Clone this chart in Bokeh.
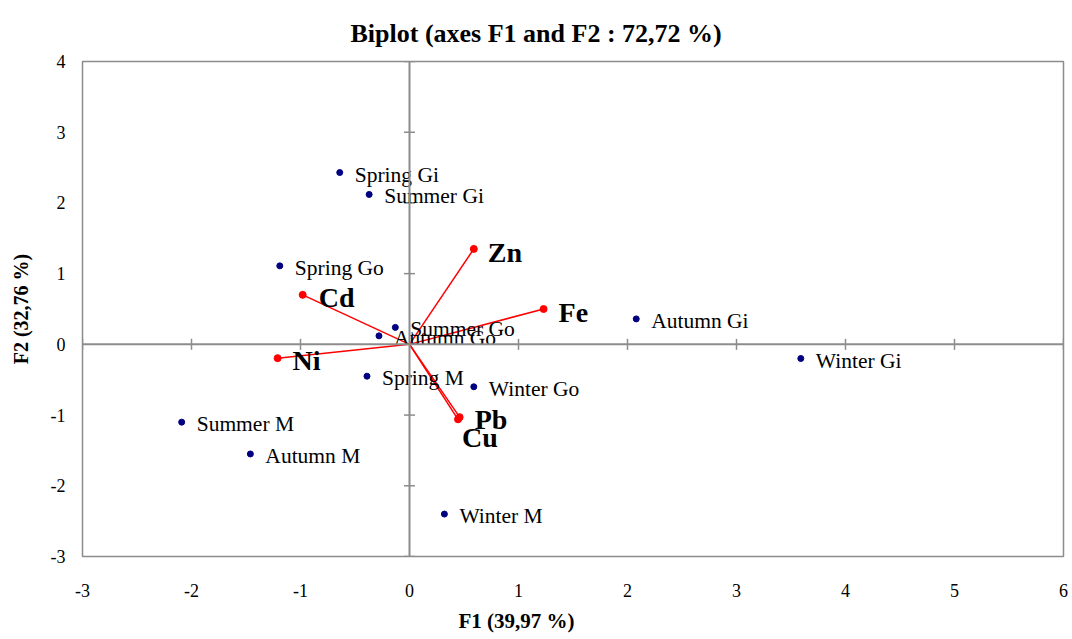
import math
from bokeh.plotting import figure
from bokeh.models import ColumnDataSource, Span, FixedTicker, Range1d, Title
from bokeh.core.properties import value
from bokeh.embed import file_html
from bokeh.resources import INLINE

# --- data ---
obs_names = ["Spring  Gi", "Summer Gi", "Spring Go", "Summer Go", "Autumn Go", "Autumn Gi",
             "Winter Gi", "Spring M", "Winter Go", "Summer M", "Autumn M", "Winter M"]
obs_f1 = [-0.64, -0.37, -1.19, -0.13, -0.28, 2.08, 3.59, -0.39, 0.59, -2.09, -1.46, 0.32]
obs_f2 = [2.43, 2.12, 1.11, 0.24, 0.12, 0.36, -0.20, -0.45, -0.60, -1.10, -1.55, -2.40]

var_names = ["Zn", "Fe", "Cd", "Ni", "Pb", "Cu"]
var_f1 = [0.59, 1.23, -0.98, -1.21, 0.46, 0.445]
var_f2 = [1.35, 0.50, 0.70, -0.195, -1.03, -1.06]

x_ticks = [-3, -2, -1, 0, 1, 2, 3, 4, 5, 6]
y_ticks = [-3, -2, -1, 0, 1, 2, 3, 4]

# label nudges (screen px) for variable labels
var_dx = [14, 15, 16, 15, 15, 4]
var_dy = [4, 3, 3, 2, 2, 18]

SERIF = "Liberation Serif"
GRAY = "#8c8c8c"

p = figure(frame_width=981, frame_height=495, output_backend="svg", toolbar_location=None,
           x_range=Range1d(-3, 6), y_range=Range1d(-3, 4),
           min_border_left=82, min_border_right=9, min_border_top=61, min_border_bottom=83)
p.title.visible = False

p.add_layout(Title(text="Biplot (axes F1 and F2 : 72,72 %)", align="left", offset=268,
                   text_font=SERIF, text_font_size="26px", text_font_style="bold",
                   text_color="black", standoff=28), "above")

p.grid.visible = False
p.outline_line_color = GRAY
p.outline_line_width = 1.5
p.background_fill_color = "white"
p.border_fill_color = "white"

for ax, ticks in ((p.xaxis[0], x_ticks), (p.yaxis[0], y_ticks)):
    ax.ticker = FixedTicker(ticks=ticks)
    ax.major_label_overrides = {t: str(t) for t in ticks}
    ax.axis_line_color = None
    ax.major_tick_line_color = None
    ax.minor_tick_line_color = None
    ax.major_label_text_font = SERIF
    ax.major_label_text_font_size = "18px"
    ax.major_label_text_color = "black"
    ax.axis_label_text_font = SERIF
    ax.axis_label_text_font_size = "20px"
    ax.axis_label_text_font_style = "bold"
    ax.axis_label_text_color = "black"

p.yaxis.axis_label = "F2 (32,76 %)"
p.xaxis.major_label_standoff = 21
p.yaxis.major_label_standoff = 11
p.yaxis.axis_label_standoff = 16

p.add_layout(Title(text="F1 (39,97 %)", align="left", offset=376,
                   text_font=SERIF, text_font_size="21px", text_font_style="bold",
                   text_color="black", standoff=15), "below")

# zero lines
p.add_layout(Span(location=0, dimension="height", line_color=GRAY, line_width=2))
p.add_layout(Span(location=0, dimension="width", line_color=GRAY, line_width=2))

# tick marks on the zero lines
xt = [t for t in x_ticks if t != 0]
yt = [t for t in y_ticks if t != 0]
p.scatter(x=xt, y=[0] * len(xt), marker="dash", size=11, angle=math.pi / 2,
          line_color=GRAY, line_width=1.5)
p.scatter(x=[0] * len(yt), y=yt, marker="dash", size=11,
          line_color=GRAY, line_width=1.5)

# vectors
vsrc = ColumnDataSource(dict(x0=[0] * len(var_names), y0=[0] * len(var_names),
                             x=var_f1, y=var_f2, name=var_names, dx=var_dx, dy=var_dy))
p.segment(x0="x0", y0="y0", x1="x", y1="y", source=vsrc, line_color="red", line_width=1.5)
p.scatter(x="x", y="y", source=vsrc, size=7, fill_color="red", line_color="red")

# observations
osrc = ColumnDataSource(dict(x=obs_f1, y=obs_f2, name=obs_names))
p.scatter(x="x", y="y", source=osrc, size=6, fill_color="#000080", line_color="#000080")
p.text(x="x", y="y", text="name", source=osrc, x_offset=15, y_offset=2,
       text_font=value(SERIF), text_font_size="21.5px", text_color="black",
       text_baseline="middle", text_align="left")

p.text(x="x", y="y", text="name", source=vsrc, x_offset="dx", y_offset="dy",
       text_font=value(SERIF), text_font_size="28px", text_font_style="bold",
       text_color="black", text_baseline="middle", text_align="left")

open("out.html", "w").write(file_html(p, INLINE))
